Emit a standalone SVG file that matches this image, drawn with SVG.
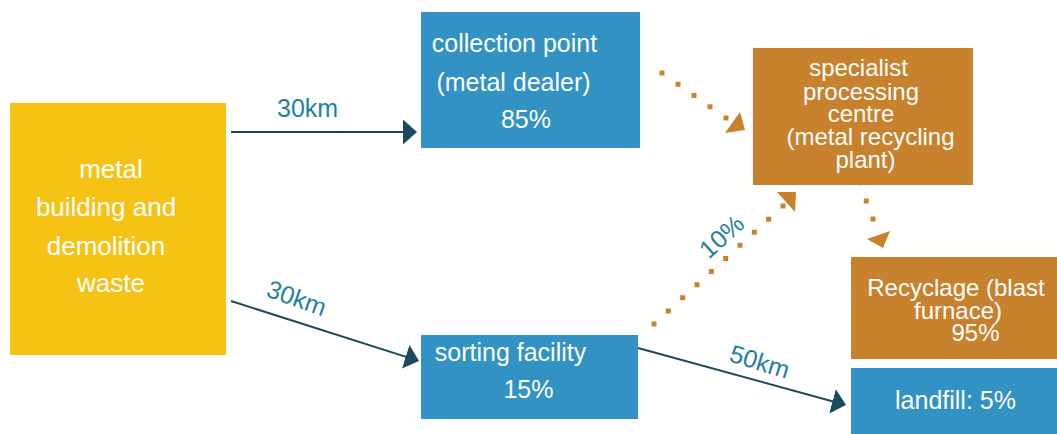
<svg xmlns="http://www.w3.org/2000/svg" width="1057" height="434" viewBox="0 0 1057 434">
  <style>
    text { font-family: "Liberation Sans", Arial, sans-serif; }
    .box-yellow { fill: #F6C315; }
    .box-blue { fill: #3192C3; }
    .box-orange { fill: #C8812D; }
    .node-text { fill: #FFFFFF; text-anchor: middle; }
    .flow { fill: none; stroke: #1B4A5E; stroke-width: 2; marker-end: url(#arrow); }
    .share { fill: none; stroke: #C8812D; stroke-width: 5; stroke-linecap: square; }
    .share-head { fill: #C8812D; }
    .label { fill: #1F7EA4; font-size: 25px; }
  </style>
  <defs>
    <marker id="arrow" markerUnits="userSpaceOnUse" markerWidth="14" markerHeight="25" viewBox="0 0 14 25" refX="12" refY="12.5" orient="auto">
      <path d="M0,0 L14,12.5 L0,25 Z" fill="#1B4A5E"/>
    </marker>
  </defs>

  <!-- connectors -->
  <g id="connectors">
    <path class="flow" d="M231,132 L415,132"/>
    <path class="flow" d="M231,301 L417.1,360.4"/>
    <path class="flow" d="M638,348 L844.1,404.5"/>

    <path class="share" d="M662,73 L726,118" stroke-dasharray="0 19.55"/>
    <polygon class="share-head" points="740,112 745,130 725,133"/>

    <path class="share" d="M654,324 L783,206" stroke-dasharray="0 19.42"/>
    <polygon class="share-head" points="777,192 796,192 795,212"/>

    <path class="share" d="M859.6,182.8 L873,219" stroke-dasharray="0 19.3"/>
    <polygon class="share-head" points="867,239 890,231 883,248"/>

    <text class="label" x="277" y="117">30km</text>
    <text class="label" transform="translate(265,296) rotate(19.5)">30km</text>
    <text class="label" transform="translate(728,361) rotate(17)">50km</text>
    <text class="label" text-anchor="middle" transform="translate(727.4,242.9) rotate(-42)">10%</text>
  </g>

  <g id="waste">
    <rect class="box-yellow" x="10" y="103" width="216" height="252"/>
    <text class="node-text" font-size="26" x="111" y="178">metal</text>
    <text class="node-text" font-size="26" x="106" y="216">building and</text>
    <text class="node-text" font-size="26" x="106" y="255">demolition</text>
    <text class="node-text" font-size="26" x="111" y="292">waste</text>
  </g>

  <g id="collection-point">
    <rect class="box-blue" x="421" y="12" width="219" height="136"/>
    <text class="node-text" font-size="25" x="514.5" y="52">collection point</text>
    <text class="node-text" font-size="25" x="513.5" y="91">(metal dealer)</text>
    <text class="node-text" font-size="25" x="526" y="128">85%</text>
  </g>

  <g id="sorting-facility">
    <rect class="box-blue" x="421" y="335" width="217" height="84"/>
    <text class="node-text" font-size="25" x="510.5" y="361">sorting facility</text>
    <text class="node-text" font-size="25" x="528.5" y="398">15%</text>
  </g>

  <g id="processing-centre">
    <rect class="box-orange" x="753" y="48" width="220" height="137"/>
    <text class="node-text" font-size="24" x="858.5" y="76">specialist</text>
    <text class="node-text" font-size="24" x="861" y="100">processing</text>
    <text class="node-text" font-size="24" x="861" y="122">centre</text>
    <text class="node-text" font-size="24" x="870.5" y="145">(metal recycling</text>
    <text class="node-text" font-size="24" x="865.5" y="168">plant)</text>
  </g>

  <g id="blast-furnace">
    <rect class="box-orange" x="851" y="257" width="206" height="102"/>
    <text class="node-text" font-size="24" x="956" y="296">Recyclage (blast</text>
    <text class="node-text" font-size="24" x="958" y="319">furnace)</text>
    <text class="node-text" font-size="24" x="975.5" y="341">95%</text>
  </g>

  <g id="landfill">
    <rect class="box-blue" x="851" y="368" width="206" height="66"/>
    <text class="node-text" font-size="25" x="955.5" y="409">landfill: 5%</text>
  </g>
</svg>
